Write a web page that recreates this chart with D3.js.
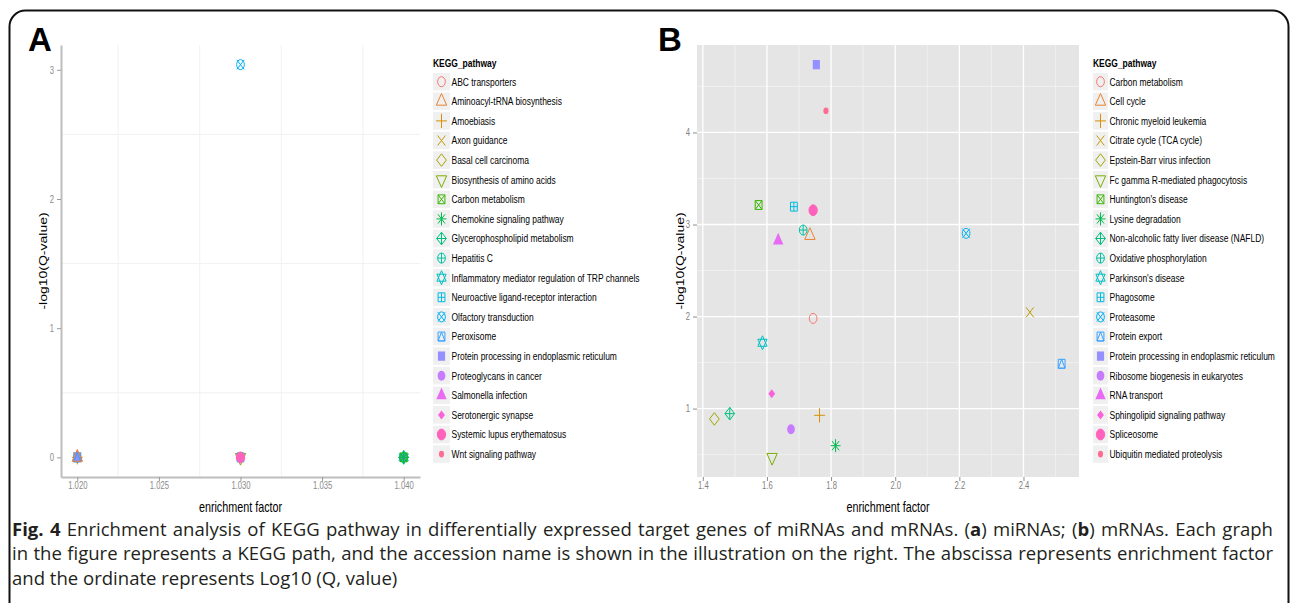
<!DOCTYPE html>
<html><head><meta charset="utf-8">
<script src="https://cdn.jsdelivr.net/npm/d3@7"></script>
<style>body{margin:0;background:#fff;} svg{display:block;}</style>
</head><body>
<svg id="fig" width="1292" height="603" xmlns="http://www.w3.org/2000/svg"></svg>
<script>
// ---------------- DATA ----------------
const palette = ["#F8766D","#EA8331","#D89000","#C09B00","#A3A500","#7CAE00","#39B600","#00BB4E","#00BF7D","#00C1A3","#00BFC4","#00BAE0","#00B0F6","#35A2FF","#9590FF","#C77CFF","#E76BF3","#FA62DB","#FF62BC","#FF6C91"];
const shapeCodes = [1,2,3,4,5,6,7,8,9,10,11,12,13,14,15,16,17,18,19,20];

const pathwaysA = ["ABC transporters","Aminoacyl-tRNA biosynthesis","Amoebiasis","Axon guidance","Basal cell carcinoma","Biosynthesis of amino acids","Carbon metabolism","Chemokine signaling pathway","Glycerophospholipid metabolism","Hepatitis C","Inflammatory mediator regulation of TRP channels","Neuroactive ligand-receptor interaction","Olfactory transduction","Peroxisome","Protein processing in endoplasmic reticulum","Proteoglycans in cancer","Salmonella infection","Serotonergic synapse","Systemic lupus erythematosus","Wnt signaling pathway"];
const enrichA = [1.020,1.020,1.020,1.020,1.040,1.030,1.040,1.040,1.040,1.040,1.040,1.030,1.030,1.020,1.020,1.040,1.020,1.030,1.030,1.030];
const logQA   = [0,0,0,0,0,0,0,0,0,0,0,0,3.04,0,0,0,0,0,0,0];
const drawOrderA = [0,2,3,16,14,13,1, 5,17,19,11,18, 15,4,8,10,9,6,7, 12];
const xTicksA = [1.020,1.025,1.030,1.035,1.040];
const yTicksA = [0,1,2,3];
const xMinorA = [1.0225,1.0275,1.0325,1.0375];
const yMinorA = [0.5,1.5,2.5];

const pathwaysB = ["Carbon metabolism","Cell cycle","Chronic myeloid leukemia","Citrate cycle (TCA cycle)","Epstein-Barr virus infection","Fc gamma R-mediated phagocytosis","Huntington's disease","Lysine degradation","Non-alcoholic fatty liver disease (NAFLD)","Oxidative phosphorylation","Parkinson's disease","Phagosome","Proteasome","Protein export","Protein processing in endoplasmic reticulum","Ribosome biogenesis in eukaryotes","RNA transport","Sphingolipid signaling pathway","Spliceosome","Ubiquitin mediated proteolysis"];
const enrichB = [1.744,1.734,1.764,2.420,1.436,1.616,1.574,1.814,1.484,1.713,1.586,1.684,2.221,2.519,1.754,1.675,1.635,1.615,1.744,1.784];
const logQB   = [1.98,2.88,0.927,2.046,0.887,0.47,3.212,0.597,0.945,2.94,1.715,3.194,2.904,1.487,4.737,0.775,2.825,1.16,3.155,4.236];
const drawOrderB = d3.range(pathwaysB.length);
const xTicksB = [1.4,1.6,1.8,2.0,2.2,2.4];
const yTicksB = [1,2,3,4];
const xMinorB = [1.5,1.7,1.9,2.1,2.3,2.5];
const yMinorB = [0.5,1.5,2.5,3.5,4.5];

const captionLines = [
  [{t:"Fig. 4",b:true},{t:" Enrichment analysis of KEGG pathway in differentially expressed target genes of miRNAs and mRNAs. ("},{t:"a",b:true},{t:") miRNAs; ("},{t:"b",b:true},{t:") mRNAs. Each graph"}],
  [{t:"in the figure represents a KEGG path, and the accession name is shown in the illustration on the right. The abscissa represents enrichment factor"}],
  [{t:"and the ordinate represents Log10 (Q, value)"}]
];

// ---------------- DRAWING ----------------
const svg = d3.select("#fig");
const SX = 0.77;               // horizontal squeeze of the original figure
const FONT = "'Liberation Sans', Arial, sans-serif";
const bgLayer = svg.append("g");

svg.append("path")
  .attr("d", "M9.5,740V26.5A16,16 0 0 1 25.5,10.5H1272.5A16,16 0 0 1 1288.5,26.5V740")
  .attr("fill","none").attr("stroke","#111").attr("stroke-width",2);

function boxPath(x0,y0,w,h){ return `M${x0},${y0}h${w}v${h}h${-w}Z`; }

function stext(parent, x, y, s, o){
  o = o || {};
  const g = parent.append("g").attr("transform",`translate(${x},${y}) scale(${SX},1)` + (o.rotate?" rotate(-90)":""));
  return g.append("text").attr("x",0).attr("y",0)
    .attr("font-family",FONT).attr("font-size",o.size||11)
    .attr("font-weight",o.weight||"normal")
    .attr("text-anchor",o.anchor||"start").attr("fill",o.fill||"#000").text(s);
}

function drawMarker(parent, pch, color, cx, cy){
  const g = parent.append("g").attr("transform",`translate(${cx},${cy}) scale(${SX},1)`);
  const R=5, h=R*0.886, tr=R*1.555, ty=R*0.7776, tx=R*1.3468, dm=R*1.2533;
  const st = d => g.append("path").attr("d",d).attr("fill","none").attr("stroke",color)
      .attr("stroke-width",1).attr("vector-effect","non-scaling-stroke");
  const fl = (d, sw) => g.append("path").attr("d",d).attr("fill",color)
      .attr("stroke",sw?color:"none").attr("stroke-width",sw||0).attr("vector-effect","non-scaling-stroke");
  const circ = r => `M${-r},0A${r},${r} 0 1,0 ${r},0A${r},${r} 0 1,0 ${-r},0Z`;
  const sq = a => `M${-a},${-a}H${a}V${a}H${-a}Z`;
  const triUp = `M0,${-tr}L${tx},${ty}L${-tx},${ty}Z`;
  const triDn = `M0,${tr}L${tx},${-ty}L${-tx},${-ty}Z`;
  const plus = a => `M${-a},0H${a}M0,${-a}V${a}`;
  const cross = a => `M${-a},${-a}L${a},${a}M${-a},${a}L${a},${-a}`;
  const diam = a => `M0,${-a}L${a},0L0,${a}L${-a},0Z`;
  switch(pch){
    case 1: st(circ(R)); break;
    case 2: st(triUp); break;
    case 3: st(plus(R*1.414)); break;
    case 4: st(cross(R)); break;
    case 5: st(diam(dm)); break;
    case 6: st(triDn); break;
    case 7: st(sq(h)); st(cross(h)); break;
    case 8: st(plus(R*1.3)); st(cross(R*0.92)); break;
    case 9: st(diam(dm)); st(plus(dm)); break;
    case 10: st(circ(R)); st(plus(R)); break;
    case 11: st(`M0,-7L6,3.5L-6,3.5Z`); st(`M0,7L6,-3.5L-6,-3.5Z`); break;
    case 12: st(sq(h)); st(plus(h)); break;
    case 13: st(circ(R)); st(cross(R*0.95)); break;
    case 14: st(sq(h)); st(`M0,${-h}L${h},${h}L${-h},${h}Z`); break;
    case 15: fl(sq(h*1.05)); break;
    case 16: fl(circ(R)); break;
    case 17: fl(triUp); break;
    case 18: fl(diam(R*0.9)); break;
    case 19: fl(circ(R*1.08),1); break;
    case 20: fl(circ(R*0.67)); break;
  }
}

function expand(v){ const e=d3.extent(v), d=e[1]-e[0]; return [e[0]-0.05*d, e[1]+0.05*d]; }

function drawPanel(p){
  const g = svg.append("g");
  const x = d3.scaleLinear().domain(expand(p.xs)).range([p.left,p.right]);
  const y = d3.scaleLinear().domain(expand(p.ys)).range([p.bottom,p.top]);
  if (p.grey) bgLayer.append("path").attr("d", boxPath(p.left,p.top,p.right-p.left,p.bottom-p.top))
      .style("fill","#E5E5E5").style("stroke","none");
  const mc = p.grey ? "#F2F2F2" : "#F1F1F1", mw = p.grey ? 0.8 : 1;
  const grid = g.append("g");
  p.xMinor.forEach(v => grid.append("line").attr("x1",x(v)).attr("x2",x(v))
    .attr("y1",p.top).attr("y2",p.bottom).attr("stroke",mc).attr("stroke-width",mw));
  p.yMinor.forEach(v => grid.append("line").attr("y1",y(v)).attr("y2",y(v))
    .attr("x1",p.left).attr("x2",p.right).attr("stroke",mc).attr("stroke-width",mw));
  if (p.grey){
    p.xTicks.forEach(v => grid.append("line").attr("x1",x(v)).attr("x2",x(v))
      .attr("y1",p.top).attr("y2",p.bottom).attr("stroke","#FFFFFF").attr("stroke-width",1.3));
    p.yTicks.forEach(v => grid.append("line").attr("y1",y(v)).attr("y2",y(v))
      .attr("x1",p.left).attr("x2",p.right).attr("stroke","#FFFFFF").attr("stroke-width",1.3));
  }
  // axes
  const ax = g.append("g").attr("transform",`translate(0,${p.bottom})`)
    .call(d3.axisBottom(x).tickValues(p.xTicks).tickFormat(p.xFmt).tickSize(4).tickSizeOuter(0).tickPadding(3));
  const ay = g.append("g").attr("transform",`translate(${p.left},0)`)
    .call(d3.axisLeft(y).tickValues(p.yTicks).tickFormat(p.yFmt).tickSize(4).tickSizeOuter(0).tickPadding(3));
  [ax,ay].forEach(a=>{
    a.selectAll(".tick line").attr("stroke", p.grey ? "#8C8C8C" : "#9A9A9A");
    a.selectAll(".tick text").attr("font-family",FONT).attr("font-size",10).attr("fill", p.grey?"#7F7F7F":"#8A8A8A");
    if (p.grey) a.select(".domain").remove();
    else a.select(".domain").attr("stroke","#BDBDBD").attr("stroke-width",2);
  });
  ax.selectAll(".tick text").attr("transform",`scale(${SX},1)`).attr("dy","0.75em").attr("y",5);
  ay.selectAll(".tick text").attr("transform",`scale(${SX},1)`).attr("x",-7/SX).attr("dy","0.34em");
  // points
  const pts = g.append("g");
  p.order.forEach(i => drawMarker(pts, shapeCodes[i], palette[i], x(p.xs[i]), y(p.ys[i])));
  // axis titles
  stext(g, (p.left+p.right)/2, 512, "enrichment factor", {size:14, anchor:"middle"});
  stext(g, p.ytx, (p.top+p.bottom)/2, "-log10(Q-value)", {size:14, anchor:"middle", rotate:true})
    .attr("dy","0.35em");
  // legend
  const lg = g.append("g");
  stext(lg, p.legX, 67, "KEGG_pathway", {size:11, weight:"bold"});
  p.names.forEach((n,i)=>{
    const cy = 81.7 + i*19.6;
    bgLayer.append("path").attr("d", boxPath(p.legX, cy-8.8, p.keyW, 17.6))
      .style("fill","#F0F0F0").style("stroke","none");
    drawMarker(lg, shapeCodes[i], palette[i], p.legX + p.keyW/2, cy);
    stext(lg, p.legX + p.keyW + 1.5, cy + 3.9, n, {size:11});
  });
  // panel letter
  svg.append("text").attr("x",p.letX).attr("y",51).attr("font-family",FONT).attr("font-weight","bold")
    .attr("font-size",33).text(p.letter);
}

drawPanel({names:pathwaysA, xs:enrichA, ys:logQA, order:drawOrderA, xTicks:xTicksA, yTicks:yTicksA,
  xMinor:xMinorA, yMinor:yMinorA, left:61, right:420, top:45, bottom:477, grey:false,
  xFmt:d3.format(".3f"), yFmt:d3.format("d"), legX:433, keyW:17, ytx:43, letter:"A", letX:28});
drawPanel({names:pathwaysB, xs:enrichB, ys:logQB, order:drawOrderB, xTicks:xTicksB, yTicks:yTicksB,
  xMinor:xMinorB, yMinor:yMinorB, left:697, right:1079, top:45, bottom:477, grey:true,
  xFmt:d3.format(".1f"), yFmt:d3.format("d"), legX:1093, keyW:15, ytx:680, letter:"B", letX:658});

// caption
const CAPF = "'Open Sans', 'Noto Sans', sans-serif";
const capX = 12, capTarget = 1261, capBase = [536, 560, 585], capFS = 18.5;
function capLine(segs, yb){
  const g = svg.append("g").attr("transform",`translate(${capX},${yb})`);
  const t = g.append("text").attr("x",0).attr("y",0).attr("font-family",CAPF)
    .attr("font-size",capFS).attr("fill","#231F20");
  segs.forEach(s => t.append("tspan").attr("font-weight", s.b ? 700 : 400).text(s.t));
  return {g, t};
}
const probe = capLine(captionLines[1], -100);
const capK = 1248 / probe.t.node().getComputedTextLength();
probe.g.remove();
captionLines.forEach((segs, i) => {
  const {g, t} = capLine(segs, capBase[i]);
  g.attr("transform", `translate(${capX},${capBase[i]}) scale(${capK.toFixed(4)},1)`);
  if (i < 2) {
    const w = t.node().getComputedTextLength() * capK;
    const nsp = segs.map(s=>s.t).join("").split(" ").length - 1;
    t.attr("word-spacing", ((capTarget - w) / nsp / capK).toFixed(3));
  }
});
</script>
</body></html>
